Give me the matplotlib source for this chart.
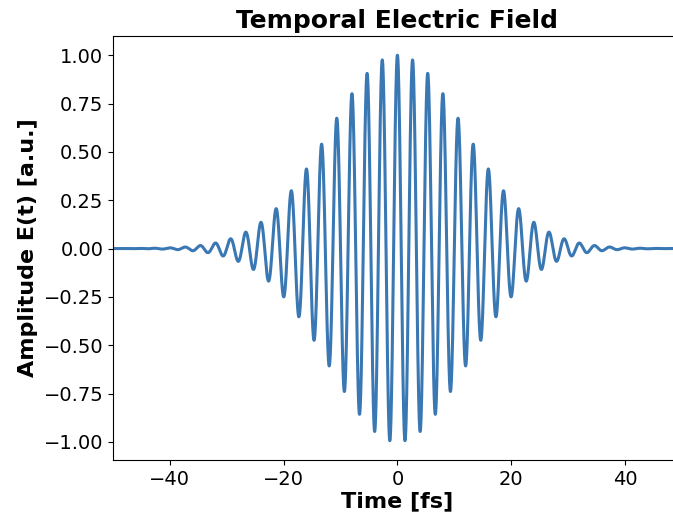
import numpy as np
import matplotlib
matplotlib.use('Agg')
import matplotlib.pyplot as plt

# pulse parameters
wavelength_nm = 800.0      # carrier period ~2.67 fs
fwhm_fs = 20.0             # intensity FWHM of the envelope
t_range_fs = [-50, 50]
n_points = 4000

c_nm_per_fs = 299.792458
t = np.linspace(t_range_fs[0], t_range_fs[1], n_points)
omega = 2 * np.pi * c_nm_per_fs / wavelength_nm
envelope = np.exp(-2 * np.log(2) * t**2 / fwhm_fs**2)
field = envelope * np.cos(omega * t)

fig = plt.figure(figsize=(6.73, 5.19), dpi=100)
ax = fig.add_axes([0.168, 0.1137, 0.845, 0.8169])
ax.plot(t, field, color='#3a78b4', lw=2.2)
ax.set_xlim(t_range_fs)
ax.set_title('Temporal Electric Field', fontsize=18, fontweight='bold')
ax.set_xlabel('Time [fs]', fontsize=16, fontweight='bold', labelpad=2)
ax.set_ylabel('Amplitude E(t) [a.u.]', fontsize=16, fontweight='bold')
ax.tick_params(labelsize=14)

fig.savefig('out.png', dpi=100)
